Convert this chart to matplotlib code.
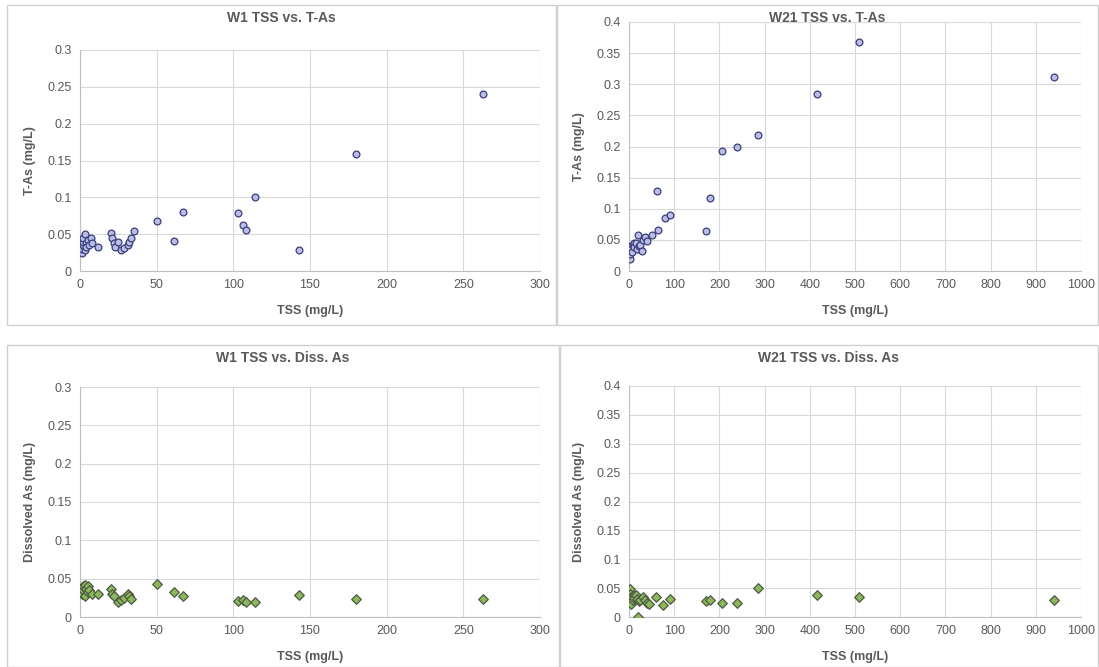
import matplotlib.pyplot as plt
from matplotlib.patches import Rectangle

plt.rcParams['font.family'] = ['Liberation Sans', 'DejaVu Sans']

# W1 TSS vs. T-As
w1_tss_t = [1, 1, 2, 2, 2, 3, 3, 4, 4, 5, 6, 7, 8, 12, 20, 21, 22, 23, 25, 27, 29, 31, 32, 33, 35,
            50, 61, 67, 103, 106, 108, 114, 143, 180, 263]
w1_tas = [0.025, 0.03, 0.035, 0.04, 0.045, 0.05, 0.028, 0.038, 0.032, 0.042, 0.035, 0.045, 0.038, 0.032,
          0.052, 0.045, 0.038, 0.033, 0.04, 0.029, 0.031, 0.035, 0.04, 0.045, 0.054,
          0.068, 0.041, 0.08, 0.079, 0.063, 0.056, 0.1, 0.029, 0.159, 0.24]

# W21 TSS vs. T-As
w21_tss_t = [2, 3, 4, 5, 6, 8, 10, 12, 15, 18, 20, 22, 25, 28, 30, 35, 40, 50,
             62, 65, 80, 90, 170, 180, 205, 238, 285, 415, 508, 940]
w21_tas = [0.02, 0.028, 0.04, 0.035, 0.03, 0.042, 0.045, 0.038, 0.045, 0.035, 0.058, 0.04, 0.042, 0.032,
           0.05, 0.055, 0.048, 0.058,
           0.128, 0.066, 0.085, 0.09, 0.065, 0.117, 0.192, 0.2, 0.219, 0.284, 0.368, 0.311]

# W1 TSS vs. Diss. As
w1_tss_d = [1, 2, 2, 3, 3, 4, 5, 5, 6, 8, 12, 20, 21, 22, 25, 27, 29, 31, 32, 33,
            50, 61, 67, 103, 106, 108, 114, 143, 180, 263]
w1_das = [0.03, 0.035, 0.04, 0.028, 0.042, 0.036, 0.032, 0.04, 0.035, 0.03, 0.03,
          0.036, 0.03, 0.027, 0.02, 0.022, 0.025, 0.03, 0.027, 0.024,
          0.043, 0.032, 0.027, 0.021, 0.022, 0.02, 0.02, 0.029, 0.024, 0.024]

# W21 TSS vs. Diss. As
w21_tss_d = [2, 3, 4, 5, 8, 10, 12, 15, 18, 20, 22, 25, 30, 35, 40, 45,
             60, 75, 90, 170, 180, 205, 240, 285, 415, 508, 940]
w21_das = [0.048, 0.04, 0.022, 0.035, 0.03, 0.038, 0.033, 0.038, 0.032, 0.0, 0.028, 0.03, 0.035, 0.03,
           0.025, 0.022, 0.035, 0.02, 0.032, 0.027, 0.03, 0.024, 0.025, 0.05, 0.038, 0.035, 0.03]

W, H = 1099, 667
fig = plt.figure(figsize=(W / 100, H / 100), dpi=100)

txt = '#595959'
grid = '#d9d9d9'


def fx(px):
    return px / W


def fy(py):
    return 1 - py / H


def panel(box, area, title, xs, ys, xmax, xstep, ymax, ylabel, marker, face, edge):
    # panel frame
    x0, y0, x1, y1 = box
    fig.patches.append(Rectangle((fx(x0), fy(y1)), fx(x1 - x0), (y1 - y0) / H,
                                 transform=fig.transFigure, fill=False,
                                 edgecolor='#d0d0d0', linewidth=1))
    ax0, ay0, ax1, ay1 = area
    ax = fig.add_axes([fx(ax0), fy(ay1), fx(ax1 - ax0), (ay1 - ay0) / H])
    ax.scatter(xs, ys, marker=marker, s=24, c=face, edgecolors=edge, linewidths=0.9, zorder=3)
    ax.set_xlim(0, xmax)
    ax.set_ylim(0, ymax)
    ax.set_xticks(range(0, xmax + 1, xstep))
    yt = [i * 0.05 for i in range(int(round(ymax / 0.05)) + 1)]
    ax.set_yticks(yt)
    ax.set_yticklabels(['0' if v == 0 else ('%g' % round(v, 2)) for v in yt])
    ax.grid(True, color=grid, linewidth=0.8)
    ax.set_axisbelow(True)
    for s in ['top', 'right']:
        ax.spines[s].set_visible(False)
    for s in ['left', 'bottom']:
        ax.spines[s].set_color('#bfbfbf')
    ax.tick_params(length=0, labelsize=9, colors=txt, pad=6)
    ax.set_xlabel('TSS (mg/L)', fontsize=9, fontweight='bold', color=txt, labelpad=10)
    ax.set_ylabel(ylabel, fontsize=9, fontweight='bold', color=txt, labelpad=8)
    fig.text(fx((x0 + x1) / 2), fy(y0 + 13), title, ha='center', va='center',
             fontsize=10, fontweight='bold', color=txt)
    return ax


blue_face, blue_edge = '#b9bde8', '#3a3f78'
green_face, green_edge = '#8cb85c', '#4f5a45'

panel((7, 5, 556, 325), (80, 50, 540, 271), 'W1 TSS vs. T-As',
      w1_tss_t, w1_tas, 300, 50, 0.3, 'T-As (mg/L)', 'o', blue_face, blue_edge)
panel((557, 5, 1098, 325), (629, 22, 1081, 271), 'W21 TSS vs. T-As',
      w21_tss_t, w21_tas, 1000, 100, 0.4, 'T-As (mg/L)', 'o', blue_face, blue_edge)
panel((7, 345, 559, 667), (80, 387, 540, 617), 'W1 TSS vs. Diss. As',
      w1_tss_d, w1_das, 300, 50, 0.3, 'Dissolved As (mg/L)', 'D', green_face, green_edge)
panel((560, 345, 1098, 667), (629, 386, 1081, 617), 'W21 TSS vs. Diss. As',
      w21_tss_d, w21_das, 1000, 100, 0.4, 'Dissolved As (mg/L)', 'D', green_face, green_edge)

fig.savefig('out.png', dpi=100)
